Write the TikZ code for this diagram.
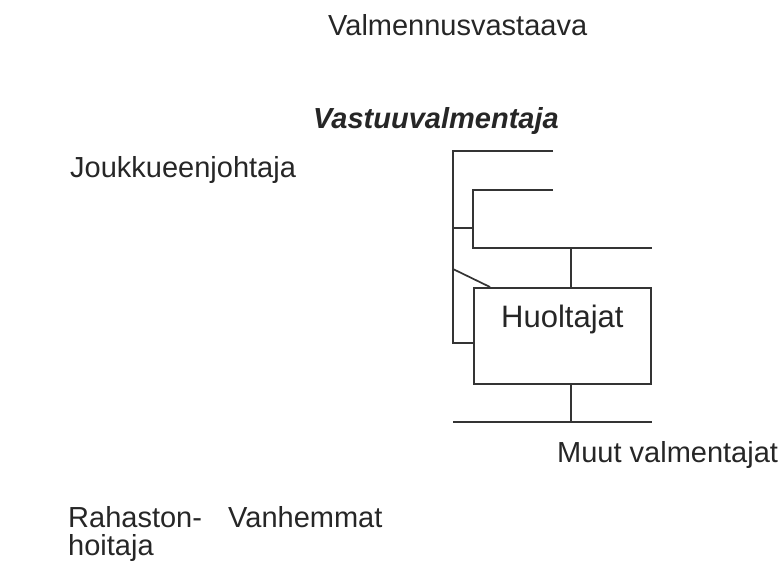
\documentclass[tikz,border=0pt]{standalone}
\usepackage{fontspec}
\setmainfont{Liberation Sans}
\usepackage{xcolor}
\usetikzlibrary{positioning}
\definecolor{ScanInk}{RGB}{38, 38, 38}
\definecolor{ScanLine}{RGB}{52, 52, 52}

\tikzset{
  roletext/.style={anchor=base west, inner sep=0pt, text=ScanInk,
                   font=\fontsize{29}{28}\selectfont, align=left},
  scanline/.style={draw=ScanLine, line width=1.7pt},
}

\begin{document}
\begin{tikzpicture}[x=1pt, y=-1pt]
    \useasboundingbox (0,0) rectangle (784,568);

    % roles around the chart
    \node[roletext] (valmvast) at (328,35) {Valmennusvastaava};
    \node[roletext, font=\fontsize{29}{28}\selectfont\bfseries\itshape] (vastuu) at (313,128) {Vastuuvalmentaja};
    \node[roletext] (joukkue) at (70,177) {Joukkueenjohtaja};
    \node[roletext] (muut) at (557,462) {Muut valmentajat};
    \node[roletext] (rahasto) at (68,555) {Rahaston-\\hoitaja};
    \node[roletext] (vanhemmat) at (228,527) {Vanhemmat};

    % the scanned chart fragment
    \node[scanline, anchor=north west, inner sep=0pt, minimum width=177pt,
          text height=40pt, text depth=56pt, text=ScanInk,
          font=\fontsize{31}{31}\selectfont] (huolto) at (473,287) {Huoltajat};

    \coordinate (spinetop) at (453,151);
    \coordinate (spinebot) at (453,343);
    \coordinate (toplineend) at (553,151);
    \coordinate (brackettop) at (473,190);
    \coordinate (bracketbot) at (473,248);
    \coordinate (tee) at (571,248);
    \coordinate (basejoin) at (453,422);

    \draw[scanline] (toplineend) -- (spinetop) -- (spinebot) -- (spinebot -| huolto.west);
    \draw[scanline] (553,190) -- (brackettop) -- (bracketbot) -- (652,248);
    \draw[scanline] (453,228) -- (brackettop |- 0,228);
    \draw[scanline] (tee) -- (tee |- huolto.north);
    \draw[scanline] (453,269) -- (490,287);
    \draw[scanline] (tee |- huolto.south) -- (tee |- basejoin);
    \draw[scanline] (basejoin) -- (652,422);
  \end{tikzpicture}
\end{document}
